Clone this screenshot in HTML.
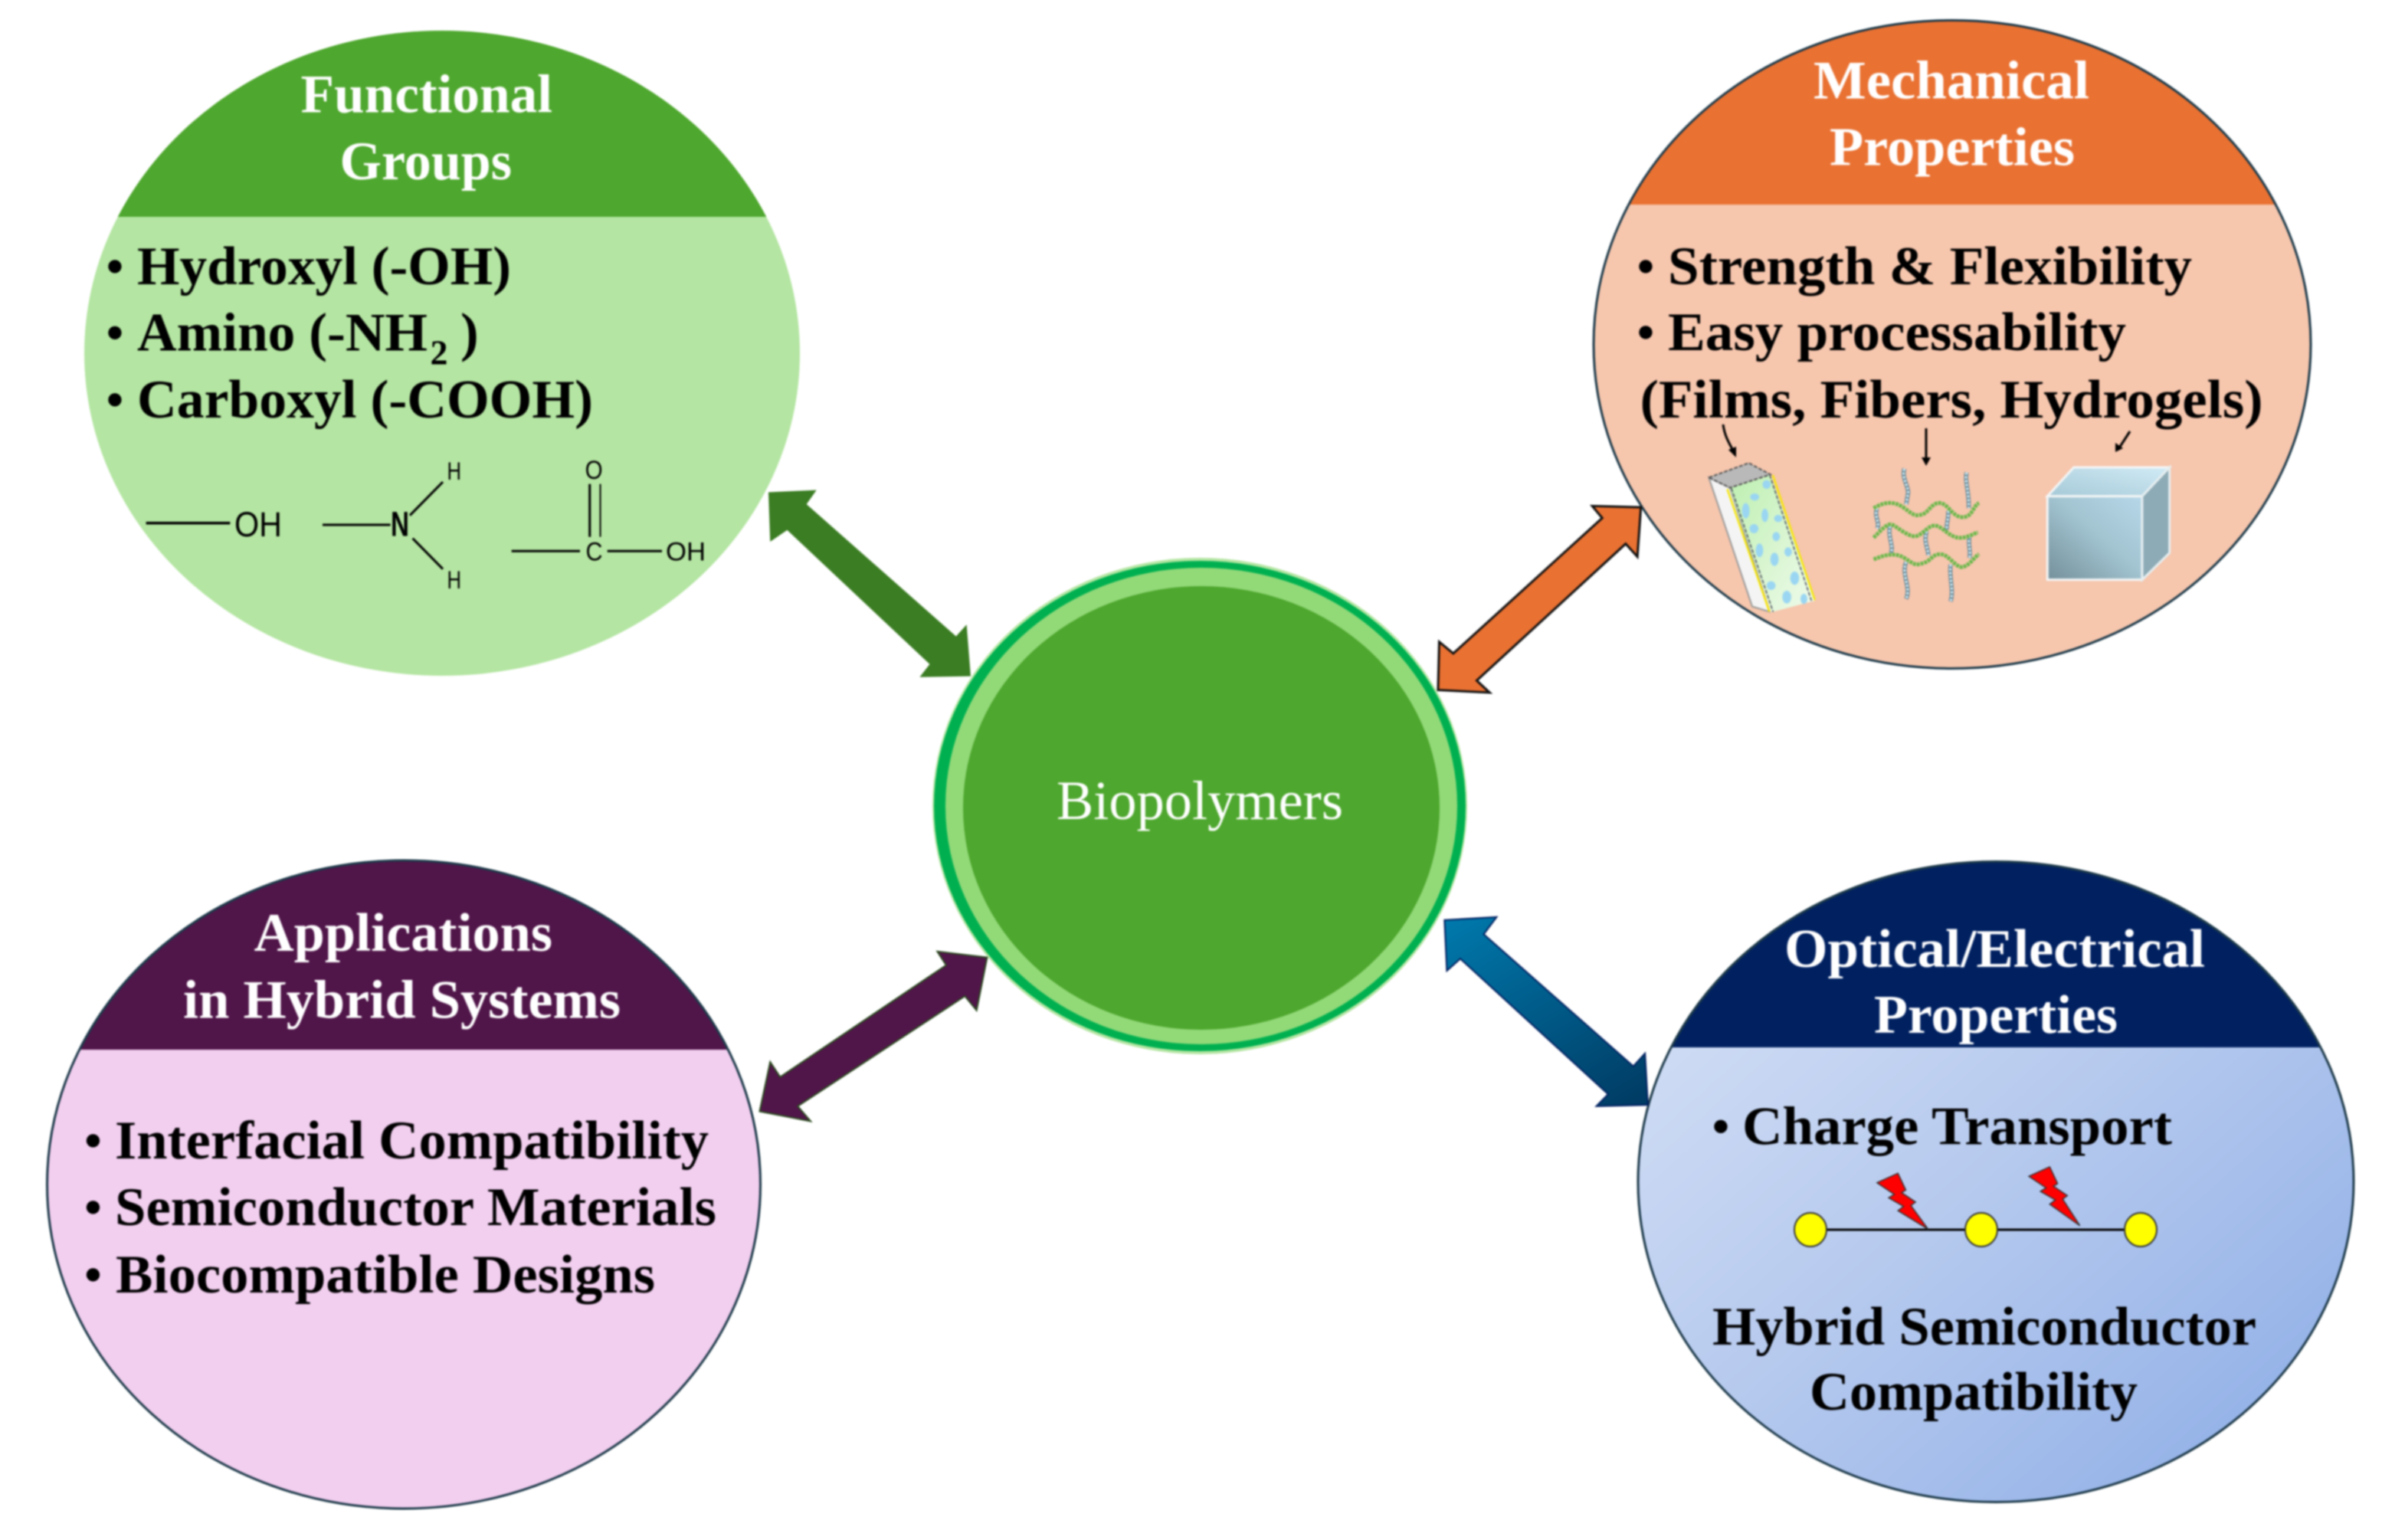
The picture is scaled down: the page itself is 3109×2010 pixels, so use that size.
<!DOCTYPE html>
<html><head><meta charset="utf-8"><title>Biopolymers</title>
<style>
html,body{margin:0;padding:0;background:#fff}
svg{display:block;filter:blur(1.1px)}
text{font-family:"Liberation Serif",serif}
.b{font-weight:bold;font-size:71px;fill:#000;transform:translateY(2px)}
.h{font-weight:bold;font-size:71px;fill:#fff;transform:translateY(2px)}
.d{font-weight:bold;font-size:64px;fill:#000}
.c{font-family:"Liberation Sans",sans-serif;fill:#000}
.ns{vector-effect:non-scaling-stroke}
</style></head><body>
<svg xmlns="http://www.w3.org/2000/svg" width="3109" height="2010" viewBox="0 0 3109 2010">
<defs>
<clipPath id="c1"><ellipse cx="577" cy="461" rx="467" ry="421"/></clipPath>
<clipPath id="c2"><ellipse cx="2548" cy="449.5" rx="468" ry="423"/></clipPath>
<clipPath id="c3"><ellipse cx="527" cy="1546" rx="465.5" ry="423"/></clipPath>
<clipPath id="c4"><ellipse cx="2605" cy="1542.5" rx="467" ry="418"/></clipPath>
<linearGradient id="g4" x1="0" y1="0" x2="1" y2="1"><stop offset=".05" stop-color="#D6E1F6"/><stop offset=".5" stop-color="#B5C9EE"/><stop offset="1" stop-color="#8AABE6"/></linearGradient>
<linearGradient id="ga" gradientUnits="userSpaceOnUse" x1="1183" y1="1035" x2="1530" y2="1465"><stop offset="0" stop-color="#0079AC"/><stop offset="1" stop-color="#003A62"/></linearGradient>
<linearGradient id="gf" x1="0" y1="0" x2="1" y2="1"><stop offset="0" stop-color="#BDEFB0"/><stop offset="1" stop-color="#F0FBEC"/></linearGradient>
<linearGradient id="gc" x1="0" y1="1" x2="1" y2="0"><stop offset="0" stop-color="#74909B"/><stop offset=".55" stop-color="#A3C5D2"/><stop offset="1" stop-color="#B5D7E8"/></linearGradient>
<linearGradient id="gt" x1="0" y1="1" x2="1" y2="0"><stop offset="0" stop-color="#A6C9D7"/><stop offset="1" stop-color="#D0EBF6"/></linearGradient>
</defs>
<rect width="3109" height="2010" fill="#fff"/>

<!-- Functional Groups -->
<ellipse cx="577" cy="461" rx="467" ry="421" fill="#B4E5A2"/>
<rect x="100" y="30" width="960" height="253" fill="#4EA72E" clip-path="url(#c1)"/>
<text class="h" x="392.5" y="144.6" textLength="328.5" lengthAdjust="spacingAndGlyphs">Functional</text>
<text class="h" x="443.5" y="232" textLength="224.5" lengthAdjust="spacingAndGlyphs">Groups</text>
<text class="d" x="150" y="369" text-anchor="middle">•</text>
<text class="b" x="179" y="369" textLength="488" lengthAdjust="spacingAndGlyphs">Hydroxyl (-OH)</text>
<text class="d" x="150" y="455.5" text-anchor="middle">•</text>
<text class="b" x="179" y="455.5" textLength="379" lengthAdjust="spacingAndGlyphs">Amino (-NH</text>
<text class="b" x="561.5" y="473.4" style="font-size:46px" textLength="23" lengthAdjust="spacingAndGlyphs">2</text>
<text class="b" x="601" y="455.5">)</text>
<text class="d" x="150" y="543" text-anchor="middle">•</text>
<text class="b" x="179" y="543" textLength="595" lengthAdjust="spacingAndGlyphs">Carboxyl (-COOH)</text>
<g stroke="#000" stroke-width="3" fill="none">
<line x1="190.6" y1="682.7" x2="300.3" y2="682.7" stroke-width="3.5"/>
<line x1="421" y1="685" x2="509.5" y2="685"/>
<line x1="535" y1="672.7" x2="578" y2="629"/>
<line x1="538.6" y1="702.7" x2="578" y2="742.7"/>
<line x1="769.7" y1="631.7" x2="769.7" y2="700.7"/>
<line x1="783.5" y1="631.7" x2="783.5" y2="700.7" stroke-width="2"/>
<line x1="667.7" y1="719.3" x2="757" y2="719.3"/>
<line x1="792.7" y1="719.3" x2="864" y2="719.3"/>
</g>
<text class="c" x="306" y="700" font-size="45" textLength="62" lengthAdjust="spacingAndGlyphs">OH</text>
<text class="c" x="510" y="699.3" font-size="45" textLength="24" lengthAdjust="spacingAndGlyphs" font-weight="bold">N</text>
<text class="c" x="583.5" y="626" font-size="32" textLength="18.5" lengthAdjust="spacingAndGlyphs">H</text>
<text class="c" x="583.5" y="768" font-size="32" textLength="18.5" lengthAdjust="spacingAndGlyphs">H</text>
<text class="c" x="763.6" y="625" font-size="34" textLength="23" lengthAdjust="spacingAndGlyphs">O</text>
<text class="c" x="764.5" y="731.7" font-size="34" textLength="22" lengthAdjust="spacingAndGlyphs">C</text>
<text class="c" x="869" y="731.7" font-size="34" textLength="52" lengthAdjust="spacingAndGlyphs">OH</text>

<!-- Mechanical Properties -->
<ellipse cx="2548" cy="449.5" rx="468" ry="423" fill="#F6C6AD"/>
<rect x="2070" y="20" width="960" height="247" fill="#E97132" clip-path="url(#c2)"/>
<ellipse cx="2548" cy="449.5" rx="468" ry="423" fill="none" stroke="#1D3A4A" stroke-width="3"/>
<text class="h" x="2367" y="126.6" textLength="360" lengthAdjust="spacingAndGlyphs">Mechanical</text>
<text class="h" x="2388" y="213.6" textLength="320" lengthAdjust="spacingAndGlyphs">Properties</text>
<text class="d" x="2148" y="369" text-anchor="middle">•</text>
<text class="b" x="2177" y="369" textLength="684" lengthAdjust="spacingAndGlyphs">Strength &amp; Flexibility</text>
<text class="d" x="2148" y="455" text-anchor="middle">•</text>
<text class="b" x="2177" y="455" textLength="598" lengthAdjust="spacingAndGlyphs">Easy processability</text>
<text class="b" x="2140.6" y="543" textLength="813" lengthAdjust="spacingAndGlyphs">(Films, Fibers, Hydrogels)</text>
<g stroke="#000" stroke-width="3" fill="none">
<path d="M2249 554 C2251 570 2258 580 2263 590"/>
<line x1="2514" y1="559" x2="2514" y2="598"/>
<line x1="2780" y1="563" x2="2767" y2="583"/>
</g>
<polygon points="2256,587 2266,583 2266,597" fill="#000"/>
<polygon points="2508,597 2520,597 2514,608" fill="#000"/>
<polygon points="2761,578 2771,585 2761,590" fill="#000"/>

<g transform="translate(2200 560) scale(.4464 .3333)">
<polygon points="68,190 130,230 245,715 195,695" fill="#F4F4F4" stroke="#999" stroke-width="2" class="ns"/>
<polygon points="130,230 248,178 378,672 250,718" fill="url(#gf)"/>
<ellipse cx="237" cy="217" rx="12" ry="17" fill="#9AD6F2"/><ellipse cx="202" cy="266" rx="13" ry="14" fill="#9AD6F2"/><ellipse cx="176" cy="320" rx="11" ry="30" fill="#9AD6F2"/><ellipse cx="232" cy="338" rx="10" ry="26" fill="#9AD6F2"/><ellipse cx="271" cy="350" rx="12" ry="14" fill="#9AD6F2"/><ellipse cx="200" cy="390" rx="13" ry="18" fill="#9AD6F2"/><ellipse cx="265" cy="421" rx="11" ry="18" fill="#9AD6F2"/><ellipse cx="216" cy="475" rx="11" ry="27" fill="#9AD6F2"/><ellipse cx="300" cy="481" rx="11" ry="18" fill="#9AD6F2"/><ellipse cx="260" cy="510" rx="12" ry="26" fill="#9AD6F2"/><ellipse cx="319" cy="584" rx="13" ry="26" fill="#9AD6F2"/><ellipse cx="250" cy="613" rx="13" ry="17" fill="#9AD6F2"/><ellipse cx="296" cy="658" rx="13" ry="25" fill="#9AD6F2"/><ellipse cx="346" cy="665" rx="10" ry="20" fill="#9AD6F2"/>
<line x1="122" y1="235" x2="245" y2="715" stroke="#F5E60A" stroke-width="2.5" class="ns"/>
<line x1="255" y1="180" x2="378" y2="670" stroke="#F5E60A" stroke-width="2.5" class="ns"/>
<line x1="134" y1="232" x2="256" y2="716" stroke="#445" stroke-width="1.5" stroke-dasharray="5 2" class="ns"/>
<line x1="246" y1="180" x2="368" y2="672" stroke="#445" stroke-width="1.5" stroke-dasharray="5 2" class="ns"/>
<polygon points="68,190 185,133 248,178 130,230" fill="#B9B9B9" stroke="#555" stroke-width="2" stroke-dasharray="5 2" class="ns"/>
<g fill="none" stroke="#6E8A96" stroke-width="5.5">
<path class="ns" d="M640 155 C630 190 655 230 650 255 L645 295"/><path class="ns" d="M822 170 C815 200 830 250 828 310"/><path class="ns" d="M560 310 C550 340 570 370 560 390"/><path class="ns" d="M768 320 C770 350 760 380 765 395"/><path class="ns" d="M598 380 C590 420 610 460 600 485"/><path class="ns" d="M705 400 C695 440 710 470 710 495"/><path class="ns" d="M830 420 C825 450 835 480 830 505"/><path class="ns" d="M645 520 C630 570 660 620 645 665"/><path class="ns" d="M775 530 C770 580 785 630 775 675"/>
</g>
<g fill="none" stroke="#CBEBF7" stroke-width="3" stroke-dasharray="3 2">
<path class="ns" d="M640 155 C630 190 655 230 650 255 L645 295"/><path class="ns" d="M822 170 C815 200 830 250 828 310"/><path class="ns" d="M560 310 C550 340 570 370 560 390"/><path class="ns" d="M768 320 C770 350 760 380 765 395"/><path class="ns" d="M598 380 C590 420 610 460 600 485"/><path class="ns" d="M705 400 C695 440 710 470 710 495"/><path class="ns" d="M830 420 C825 450 835 480 830 505"/><path class="ns" d="M645 520 C630 570 660 620 645 665"/><path class="ns" d="M775 530 C770 580 785 630 775 675"/>
</g>
<g fill="none" stroke="#69B84A" stroke-width="5" stroke-dasharray="4 1">
<path class="ns" d="M550 310 C580 285 610 280 640 310 S670 340 690 335 S720 285 745 290 S780 345 810 345 S840 300 858 290"/>
<path class="ns" d="M550 425 C570 400 590 365 605 375 S650 420 670 420 S710 375 730 378 S770 420 795 425 S840 410 855 405"/>
<path class="ns" d="M550 510 C580 495 610 480 640 505 S670 535 695 525 S720 490 745 490 S790 545 810 540 S845 500 858 490"/>
</g>
<polygon points="1058,263 1335,263 1335,590 1058,590" fill="url(#gc)" stroke="#F4F6F6" stroke-width="3" class="ns"/>
<polygon points="1058,263 1135,150 1415,150 1335,263" fill="url(#gt)" stroke="#F4F6F6" stroke-width="3" class="ns"/>
<polygon points="1335,263 1415,150 1415,485 1335,590" fill="#8DABB6" stroke="#E6EEF0" stroke-width="3" class="ns"/>
</g>

<!-- Applications -->
<ellipse cx="527" cy="1546" rx="465.5" ry="423" fill="#F2CEEF"/>
<rect x="50" y="1110" width="960" height="260" fill="#501549" clip-path="url(#c3)"/>
<ellipse cx="527" cy="1546" rx="465.5" ry="423" fill="none" stroke="#1D3A4A" stroke-width="3"/>
<text class="h" x="331.5" y="1239" textLength="389.5" lengthAdjust="spacingAndGlyphs">Applications</text>
<text class="h" x="239" y="1326.5" textLength="571" lengthAdjust="spacingAndGlyphs">in Hybrid Systems</text>
<text class="d" x="121.4" y="1510" text-anchor="middle">•</text>
<text class="b" x="150" y="1510" textLength="775" lengthAdjust="spacingAndGlyphs">Interfacial Compatibility</text>
<text class="d" x="121.4" y="1597" text-anchor="middle">•</text>
<text class="b" x="150" y="1597" textLength="785" lengthAdjust="spacingAndGlyphs">Semiconductor Materials</text>
<text class="d" x="121.4" y="1685" text-anchor="middle">•</text>
<text class="b" x="151" y="1685" textLength="704" lengthAdjust="spacingAndGlyphs">Biocompatible Designs</text>

<!-- Optical / Electrical -->
<ellipse cx="2605" cy="1542.5" rx="467" ry="418" fill="url(#g4)"/>
<rect x="2130" y="1110" width="960" height="257" fill="#002060" clip-path="url(#c4)"/>
<ellipse cx="2605" cy="1542.5" rx="467" ry="418" fill="none" stroke="#1D3A4A" stroke-width="3"/>
<text class="h" x="2329" y="1260" textLength="549" lengthAdjust="spacingAndGlyphs">Optical/Electrical</text>
<text class="h" x="2446" y="1346" textLength="318" lengthAdjust="spacingAndGlyphs">Properties</text>
<text class="d" x="2246" y="1491.5" text-anchor="middle">•</text>
<text class="b" x="2274" y="1491.5" textLength="561" lengthAdjust="spacingAndGlyphs">Charge Transport</text>
<text class="b" x="2235" y="1753" textLength="710" lengthAdjust="spacingAndGlyphs">Hybrid Semiconductor</text>
<text class="b" x="2362" y="1838" textLength="428" lengthAdjust="spacingAndGlyphs">Compatibility</text>
<line x1="2363" y1="1605" x2="2794" y2="1605" stroke="#000" stroke-width="3"/>
<ellipse cx="2363" cy="1605" rx="21" ry="22" fill="#FFFF00" stroke="#333" stroke-width="2"/>
<ellipse cx="2586" cy="1605" rx="21" ry="22" fill="#FFFF00" stroke="#333" stroke-width="2"/>
<ellipse cx="2794" cy="1605" rx="21" ry="22" fill="#FFFF00" stroke="#333" stroke-width="2"/>
<g transform="translate(2150 1120) scale(.6059 .5612)">
<polygon class="ns" points="495,755 540,733 557,772 548,778 578,800 568,808 605,863 540,820 552,810 520,790 532,782" fill="#F00" stroke="#333" stroke-width="1.5"/>
<polygon class="ns" points="822,740 867,718 884,757 875,763 905,785 895,793 932,855 867,805 879,795 847,775 859,767" fill="#F00" stroke="#333" stroke-width="1.5"/>
</g>

<!-- Center -->
<ellipse cx="1566" cy="1052" rx="349" ry="324" fill="#B4E5A2"/>
<ellipse cx="1566" cy="1052" rx="347" ry="320" fill="#00B050"/>
<ellipse cx="1568" cy="1052" rx="334" ry="311" fill="#92D978"/>
<ellipse cx="1568" cy="1054.5" rx="311" ry="289.5" fill="#4EA72E"/>
<text x="1379" y="1069" font-size="72" fill="#fff" textLength="374" lengthAdjust="spacingAndGlyphs">Biopolymers</text>

<!-- Arrows -->
<g transform="translate(980 620) scale(.7653 .5612)">
<polygon points="30,40 112,35 95,68 350,375 368,348 375,468 288,470 305,440 62,128 33,155" fill="#3B7D23"/>
<polygon class="ns" points="1518,75 1512,190 1492,160 1238,478 1260,506 1172,500 1174,388 1198,415 1452,100 1435,72" fill="#E97132" stroke="#111" stroke-width="3"/>
<polygon class="ns" points="403,1122 385,1245 365,1212 80,1468 102,1503 15,1480 33,1365 50,1400 333,1140 318,1108" fill="#501549" stroke="#2A4A1E" stroke-width="2"/>
<polygon class="ns" points="1183,1035 1272,1028 1250,1068 1505,1375 1525,1345 1530,1465 1442,1468 1462,1440 1210,1125 1187,1153" fill="url(#ga)" stroke="#001F60" stroke-width="2"/>
</g>
</svg>
</body></html>
